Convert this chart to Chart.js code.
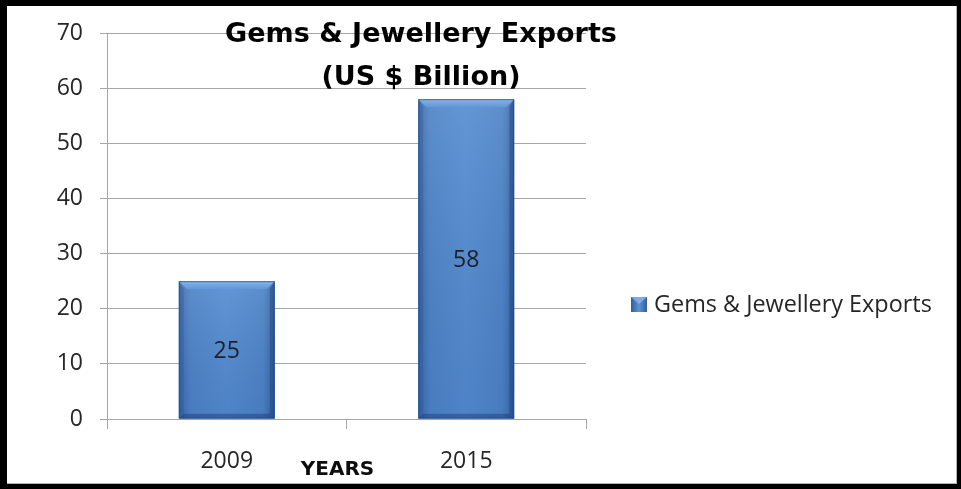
<!DOCTYPE html>
<html>
<head>
<meta charset="utf-8">
<script src="https://cdn.jsdelivr.net/npm/chart.js@4.4.1/dist/chart.umd.min.js"></script>
<style>
  html, body { margin: 0; padding: 0; background: #fff; }
  #frame {
    position: absolute; left: 0; top: 0;
    width: 961px; height: 489px; box-sizing: border-box;
    border-top: 6px solid #000; border-left: 7px solid #000;
    border-right: 4px solid #000; border-bottom: 5px solid #000;
  }
  #inner {
    width: 949px; height: 477px;
    border-right: 1px solid #b4b4b4; border-bottom: 1px solid #b4b4b4;
  }
  canvas { display: block; }
</style>
</head>
<body>
<div id="frame"><div id="inner"><canvas id="chart" width="949" height="477"></canvas></div></div>
<script>
// Gems & jewellery exports, US$ billion
const years = ['2009', '2015'];
const exportsBn = [25, 58];
const seriesName = 'Gems & Jewellery Exports';
const titleLines = ['Gems & Jewellery Exports', '(US $ Billion)'];
const axisTitleX = 'YEARS';
const yMin = 0, yMax = 70, yStep = 10;

const BODY_FONT = '"Open Sans", "Liberation Sans", sans-serif';
const BOLD_FONT = '"DejaVu Sans", "Liberation Sans", sans-serif';
const BAR_BASE = '#4a80c3';

// Bevelled bars with the value written in the middle of each bar
const bevelBars = {
  id: 'bevelBars',
  afterDatasetsDraw(chart) {
    const ctx = chart.ctx;
    const meta = chart.getDatasetMeta(0);
    meta.data.forEach((bar, i) => {
      const p = bar.getProps(['x', 'y', 'base', 'width'], true);
      const x0 = p.x - p.width / 2, x1 = p.x + p.width / 2;
      const y0 = Math.min(p.y, p.base), y1 = Math.max(p.y, p.base);
      const b = 8;
      ctx.save();
      // face
      const face = ctx.createLinearGradient(x0, 0, x1, 0);
      face.addColorStop(0, '#3868aa');
      face.addColorStop(0.12, '#4b82c6');
      face.addColorStop(0.5, '#528bd0');
      face.addColorStop(0.88, '#4b82c6');
      face.addColorStop(1, '#3462a2');
      ctx.fillStyle = face;
      ctx.fillRect(x0, y0, x1 - x0, y1 - y0);
      // soft vertical sheen on the face
      const sheen = ctx.createLinearGradient(0, y0, 0, y1);
      sheen.addColorStop(0, 'rgba(255,255,255,0.10)');
      sheen.addColorStop(1, 'rgba(0,0,40,0.05)');
      ctx.fillStyle = sheen;
      ctx.fillRect(x0, y0, x1 - x0, y1 - y0);
      // top bevel
      const top = ctx.createLinearGradient(0, y0, 0, y0 + b);
      top.addColorStop(0, '#88b4e8');
      top.addColorStop(1, '#6097d9');
      ctx.fillStyle = top;
      ctx.beginPath();
      ctx.moveTo(x0, y0); ctx.lineTo(x1, y0); ctx.lineTo(x1 - b, y0 + b); ctx.lineTo(x0 + b, y0 + b);
      ctx.closePath(); ctx.fill();
      // left bevel
      ctx.fillStyle = 'rgba(40,80,140,0.3)';
      ctx.beginPath();
      ctx.moveTo(x0, y0); ctx.lineTo(x0 + b * 0.6, y0 + b); ctx.lineTo(x0 + b * 0.6, y1 - b * 0.6); ctx.lineTo(x0, y1);
      ctx.closePath(); ctx.fill();
      // right bevel
      ctx.fillStyle = 'rgba(25,60,120,0.4)';
      ctx.beginPath();
      ctx.moveTo(x1, y0); ctx.lineTo(x1 - b * 0.6, y0 + b); ctx.lineTo(x1 - b * 0.6, y1 - b * 0.6); ctx.lineTo(x1, y1);
      ctx.closePath(); ctx.fill();
      // bottom bevel
      ctx.fillStyle = 'rgba(20,50,110,0.4)';
      ctx.beginPath();
      ctx.moveTo(x0, y1); ctx.lineTo(x1, y1); ctx.lineTo(x1 - b * 0.6, y1 - b * 0.6); ctx.lineTo(x0 + b * 0.6, y1 - b * 0.6);
      ctx.closePath(); ctx.fill();
      // outline
      ctx.strokeStyle = 'rgba(30,70,130,0.6)';
      ctx.lineWidth = 1;
      ctx.strokeRect(x0 + 0.5, y0 + 0.5, x1 - x0 - 1, y1 - y0 - 1);
      // value label
      ctx.fillStyle = '#1c1f2a';
      ctx.font = '23px ' + BODY_FONT;
      ctx.textAlign = 'center';
      ctx.textBaseline = 'middle';
      ctx.fillText(String(chart.data.datasets[0].data[i]), p.x, (y0 + y1) / 2 + 2);
      ctx.restore();
    });
  }
};

// Chart title (two lines), axis caption and legend key
const annotations = {
  id: 'annotations',
  afterDraw(chart) {
    const ctx = chart.ctx;
    const area = chart.chartArea;
    ctx.save();
    ctx.fillStyle = '#000';
    ctx.textAlign = 'center';
    ctx.textBaseline = 'alphabetic';
    ctx.font = 'bold 27px ' + BOLD_FONT;
    const tx = area.left + (area.right - area.left) * 0.6555;
    ctx.fillText(titleLines[0], tx, area.top + 9);
    ctx.fillText(titleLines[1], tx, area.top + 52);

    ctx.font = 'bold 20px ' + BOLD_FONT;
    ctx.fillStyle = '#0d0d0d';
    ctx.fillText(axisTitleX, (area.left + area.right) / 2 - 9, chart.height - 8);

    // legend key
    const kx = area.right + 45, ky = 291;
    const g = ctx.createLinearGradient(kx, 0, kx + 16, 0);
    g.addColorStop(0, '#2f5f9f');
    g.addColorStop(0.5, '#5d93d4');
    g.addColorStop(1, '#2f5f9f');
    ctx.fillStyle = g;
    ctx.fillRect(kx, ky, 16, 15);
    ctx.fillStyle = 'rgba(140,180,230,0.8)';
    ctx.beginPath();
    ctx.moveTo(kx, ky); ctx.lineTo(kx + 16, ky); ctx.lineTo(kx + 8, ky + 7); ctx.closePath(); ctx.fill();
    ctx.font = '23.4px ' + BODY_FONT;
    ctx.fillStyle = '#262626';
    ctx.textAlign = 'left';
    ctx.textBaseline = 'middle';
    ctx.fillText(chart.data.datasets[0].label, kx + 23, ky + 8);
    ctx.restore();
  }
};

new Chart(document.getElementById('chart'), {
  type: 'bar',
  data: {
    labels: years,
    datasets: [{
      label: seriesName,
      data: exportsBn,
      backgroundColor: BAR_BASE,
      borderWidth: 0,
      categoryPercentage: 1.0,
      barPercentage: 0.4
    }]
  },
  options: {
    responsive: false,
    animation: false,
    events: [],
    layout: { padding: { left: 0, right: 370, top: 27, bottom: 8 } },
    plugins: {
      legend: { display: false },
      title: { display: false },
      tooltip: { enabled: false }
    },
    scales: {
      x: {
        offset: true,
        grid: { offset: true, drawOnChartArea: false, tickLength: 10, color: '#a6a6a6' },
        border: { color: '#a6a6a6' },
        ticks: { color: '#262626', font: { family: BODY_FONT, size: 23 }, padding: 19 },
        afterFit(scale) { scale.height = 56; }
      },
      y: {
        min: yMin, max: yMax,
        ticks: { stepSize: yStep, color: '#262626', font: { family: BODY_FONT, size: 23 }, padding: 17 },
        grid: { color: '#a6a6a6', tickLength: 7 },
        border: { color: '#a6a6a6' },
        afterFit(scale) { scale.width = 100; scale.paddingTop = 0; scale.paddingBottom = 0; }
      }
    }
  },
  plugins: [bevelBars, annotations]
});
</script>
</body>
</html>
